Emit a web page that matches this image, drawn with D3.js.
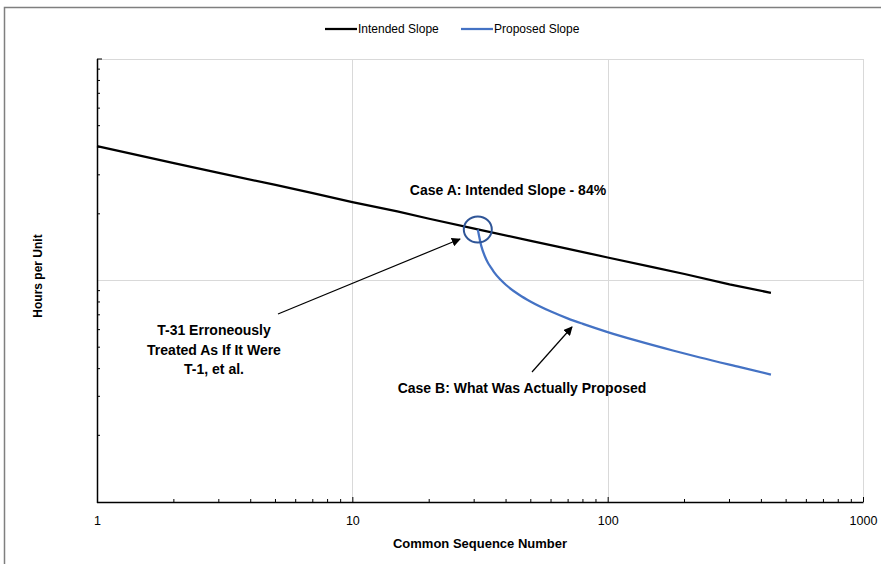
<!DOCTYPE html>
<html>
<head>
<meta charset="utf-8">
<script src="https://cdn.jsdelivr.net/npm/d3@7"></script>
<style>
  body { margin: 0; background: #fff; }
  svg { display: block; font-family: 'Liberation Sans', Arial, sans-serif; }
</style>
</head>
<body>
<div id="view"></div>
<script>
'use strict';

// series: common sequence number vs hours per unit
const intendedUnits = [1, 2, 3, 5, 7, 10, 15, 20, 31, 50, 70, 100, 150, 200, 300, 436];
const intendedHours = [404, 339, 306, 270, 248, 226, 205, 190, 170, 151, 139, 127, 115, 107, 96, 88];

const proposedUnits = [31, 32, 33, 34, 35, 36, 38, 40, 45, 50, 60, 70, 80, 100, 130, 180, 230, 330, 436];
const proposedHours = [170, 143, 129, 120, 114, 108.5, 101, 95.4, 86.2, 80.2, 72.4, 67.3, 63.7, 58.5, 53.5, 48.3, 44.9, 40.6, 37.6];

const seriesNames = ['Intended Slope', 'Proposed Slope'];
const xTickValues = [1, 10, 100, 1000];

const size = { w: 881, h: 564 };
const plot = { left: 97, right: 863, top: 59, bottom: 502 };

const presentation = {
  stroke_intended: '#000000',
  stroke_proposed: '#4472C4',
  stroke_circle: '#2F5597',
  stroke_grid: '#D9D9D9',
  stroke_frame: '#7F7F7F',
  fill_text: '#000000'
};

const x = d3.scaleLog().domain([1, 1000]).range([plot.left, plot.right]);
const y = d3.scaleLog().domain([10, 1000]).range([plot.bottom, plot.top]);

const svg = d3.select('#view').append('svg')
  .attr('width', size.w)
  .attr('height', size.h);

// chart frame (extends past the right/bottom edges like the screenshot)
svg.append('rect')
  .attr('x', 4.5).attr('y', 7.5)
  .attr('width', size.w + 20).attr('height', size.h + 20)
  .attr('fill', 'none')
  .attr('stroke', presentation.stroke_frame)
  .attr('stroke-width', 1.5);

// gridlines
const gGrid = svg.append('g').attr('stroke', presentation.stroke_grid).attr('stroke-width', 1);
gGrid.selectAll('line.vx')
  .data([10, 100, 1000])
  .enter().append('line')
  .attr('x1', d => Math.round(x(d)) + 0.5).attr('x2', d => Math.round(x(d)) + 0.5)
  .attr('y1', plot.top).attr('y2', plot.bottom);
gGrid.selectAll('line.hy')
  .data([100, 1000])
  .enter().append('line')
  .attr('y1', d => Math.round(y(d)) + 0.5).attr('y2', d => Math.round(y(d)) + 0.5)
  .attr('x1', plot.left).attr('x2', plot.right);

// axes with inward ticks
const xMinor = [];
const yMinor = [];
for (let dec = 1; dec < 1000; dec *= 10) {
  for (let k = 2; k <= 9; ++k) xMinor.push(dec * k);
}
for (let dec = 10; dec < 1000; dec *= 10) {
  for (let k = 2; k <= 9; ++k) yMinor.push(dec * k);
}

const xAxis = svg.append('g')
  .attr('transform', `translate(0,${plot.bottom})`)
  .call(d3.axisBottom(x).tickValues(xTickValues).tickSize(-5).tickFormat(d3.format('d')).tickPadding(14));
xAxis.select('.domain').remove();
xAxis.selectAll('text')
  .attr('font-size', 12.5)
  .attr('font-family', 'Liberation Sans, Arial, sans-serif')
  .attr('fill', presentation.fill_text);
xAxis.selectAll('.tick line').attr('stroke', '#000');

svg.append('g')
  .attr('stroke', '#000')
  .selectAll('line')
  .data(xMinor)
  .enter().append('line')
  .attr('x1', d => x(d)).attr('x2', d => x(d))
  .attr('y1', plot.bottom).attr('y2', plot.bottom - 3);

svg.append('g')
  .attr('stroke', '#000')
  .selectAll('line')
  .data(yMinor.concat([1000]))
  .enter().append('line')
  .attr('x1', plot.left).attr('x2', d => plot.left + (d === 1000 ? 5 : 3))
  .attr('y1', d => y(d)).attr('y2', d => y(d));

svg.append('line')
  .attr('x1', plot.left).attr('x2', plot.right + 0.5)
  .attr('y1', plot.bottom + 0.5).attr('y2', plot.bottom + 0.5)
  .attr('stroke', '#000').attr('stroke-width', 1.5);
svg.append('line')
  .attr('x1', plot.left + 0.5).attr('x2', plot.left + 0.5)
  .attr('y1', plot.top).attr('y2', plot.bottom + 1)
  .attr('stroke', '#000').attr('stroke-width', 1.5);

// axis titles
svg.append('text')
  .attr('x', 480)
  .attr('y', 548)
  .attr('text-anchor', 'middle')
  .attr('font-weight', 'bold')
  .attr('font-size', 13)
  .text('Common Sequence Number');

svg.append('text')
  .attr('transform', 'translate(42,276) rotate(-90)')
  .attr('text-anchor', 'middle')
  .attr('font-weight', 'bold')
  .attr('font-size', 12)
  .text('Hours per Unit');

// series lines
const line = d3.line().x(d => x(d[0])).y(d => y(d[1]));

svg.append('path')
  .datum(d3.zip(intendedUnits, intendedHours))
  .attr('d', line)
  .attr('fill', 'none')
  .attr('stroke', presentation.stroke_intended)
  .attr('stroke-width', 2.25);

svg.append('path')
  .datum(d3.zip(proposedUnits, proposedHours))
  .attr('d', d3.line().curve(d3.curveMonotoneX).x(d => x(d[0])).y(d => y(d[1])))
  .attr('fill', 'none')
  .attr('stroke', presentation.stroke_proposed)
  .attr('stroke-width', 2.25);

// circle around T-31
svg.append('ellipse')
  .attr('cx', x(31)).attr('cy', y(170))
  .attr('rx', 14).attr('ry', 13)
  .attr('fill', 'none')
  .attr('stroke', presentation.stroke_circle)
  .attr('stroke-width', 2);

// arrows
svg.append('defs').append('marker')
  .attr('id', 'arrow')
  .attr('viewBox', '0 0 10 10')
  .attr('refX', 9).attr('refY', 5)
  .attr('markerWidth', 9).attr('markerHeight', 9)
  .attr('markerUnits', 'userSpaceOnUse')
  .attr('orient', 'auto')
  .append('path')
  .attr('d', 'M0,0 L10,5 L0,10 z')
  .attr('fill', '#000');

const arrows = [
  { from: [278, 314], to: [460, 239] },
  { from: [532, 372], to: [572, 327] }
];
svg.selectAll('line.arrow')
  .data(arrows)
  .enter().append('line')
  .attr('x1', d => d.from[0]).attr('y1', d => d.from[1])
  .attr('x2', d => d.to[0]).attr('y2', d => d.to[1])
  .attr('stroke', '#000')
  .attr('stroke-width', 1.2)
  .attr('marker-end', 'url(#arrow)');

// annotations
const notes = [
  { x: 508, y: 195, lines: ['Case A: Intended Slope - 84%'] },
  { x: 214, y: 335, lines: ['T-31 Erroneously', 'Treated As If It Were', 'T-1, et al.'] },
  { x: 522, y: 393, lines: ['Case B: What Was Actually Proposed'] }
];
notes.forEach(n => {
  const t = svg.append('text')
    .attr('text-anchor', 'middle')
    .attr('font-weight', 'bold')
    .attr('font-size', 14)
    .attr('fill', presentation.fill_text);
  n.lines.forEach((s, i) => {
    t.append('tspan').attr('x', n.x).attr('y', n.y + i * 19.5).text(s);
  });
});

// legend
const legend = [
  { name: seriesNames[0], color: presentation.stroke_intended, x: 325 },
  { name: seriesNames[1], color: presentation.stroke_proposed, x: 461 }
];
legend.forEach(l => {
  svg.append('line')
    .attr('x1', l.x).attr('x2', l.x + 32)
    .attr('y1', 29).attr('y2', 29)
    .attr('stroke', l.color).attr('stroke-width', 2.25);
  svg.append('text')
    .attr('x', l.x + 33).attr('y', 33)
    .attr('font-size', 12)
    .text(l.name);
});
</script>
</body>
</html>
